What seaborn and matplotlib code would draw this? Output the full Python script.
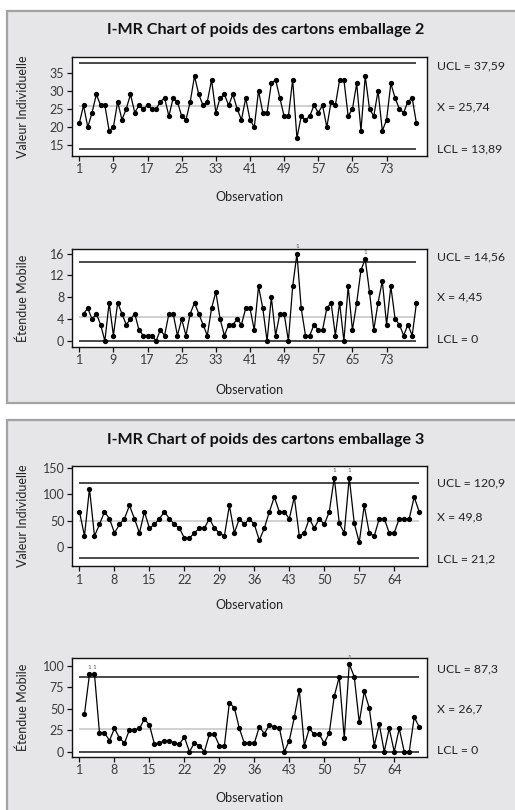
import numpy as np
import pandas as pd
import matplotlib
matplotlib.use("Agg")
import matplotlib.pyplot as plt
from matplotlib.patches import Rectangle
import seaborn as sns

# ---- Emballage 2 : individual weights and moving ranges ----
poids_2 = [21, 26, 20, 24, 29, 26, 26, 19, 20, 27,
           22, 25, 29, 24, 26, 25, 26, 25, 25, 27,
           28, 23, 28, 27, 23, 22, 27, 34, 29, 26,
           27, 33, 24, 28, 29, 26, 29, 25, 22, 28,
           22, 20, 30, 24, 24, 32, 33, 28, 23, 23,
           33, 17, 23, 22, 23, 26, 24, 26, 20, 27,
           26, 33, 33, 23, 25, 32, 19, 34, 25, 23,
           30, 19, 22, 32, 28, 25, 24, 27, 28, 21]
mr_2 = [5, 6, 4, 5, 3, 0, 7, 1, 7, 5,
        3, 4, 5, 2, 1, 1, 1, 0, 2, 1,
        5, 5, 1, 4, 1, 5, 7, 5, 3, 1,
        6, 9, 4, 1, 3, 3, 4, 3, 6, 6,
        2, 10, 6, 0, 8, 1, 5, 5, 0, 10,
        16, 6, 1, 1, 3, 2, 2, 6, 7, 1,
        7, 0, 10, 2, 7, 13, 15, 9, 2, 7,
        11, 3, 10, 4, 3, 1, 3, 1, 7]
limits_i_2 = [37.59, 25.74, 13.89]     # UCL, centre, LCL
limits_mr_2 = [14.56, 4.45, 0.0]
texts_i_2 = ["UCL = 37,59", "X = 25,74", "LCL = 13,89"]
texts_mr_2 = ["UCL = 14,56", "X = 4,45", "LCL = 0"]
xticks_2 = [1, 9, 17, 25, 33, 41, 49, 57, 65, 73]
yticks_i_2 = [15, 20, 25, 30, 35]
yticks_mr_2 = [0, 4, 8, 12, 16]

# ---- Emballage 3 : individual weights and moving ranges ----
poids_3 = [67, 21, 111, 21, 43, 67, 54, 27, 43, 54,
           79, 54, 27, 67, 36, 43, 54, 67, 54, 43,
           36, 17, 17, 27, 36, 36, 54, 36, 27, 21,
           79, 27, 54, 43, 54, 43, 13, 36, 67, 95,
           67, 67, 54, 95, 21, 27, 54, 36, 54, 43,
           67, 132, 45, 27, 132, 45, 9, 79, 27, 21,
           54, 54, 27, 27, 54, 54, 54, 95, 67]
mr_3 = [44, 90, 90, 22, 22, 13, 27, 16, 10, 25.5,
        25.5, 27, 38, 31, 9, 10, 13, 13, 10, 9,
        17, 0, 10, 7, 0, 20, 20, 7, 7, 57,
        51, 27, 10, 10, 10, 29, 21, 31, 29, 28,
        0, 13, 40, 72, 7, 27, 20, 20, 10, 22,
        64.5, 87, 16, 102, 87, 34, 70, 51, 7, 32,
        0, 27, 0, 27, 0, 0, 40, 29]
limits_i_3 = [120.9, 49.8, -21.2]
limits_mr_3 = [87.3, 26.7, 0.0]
texts_i_3 = ["UCL = 120,9", "X = 49,8", "LCL = 21,2"]
texts_mr_3 = ["UCL = 87,3", "X = 26,7", "LCL = 0"]
xticks_3 = [1, 8, 15, 22, 29, 36, 43, 50, 57, 64]
yticks_i_3 = [0, 50, 100, 150]
yticks_mr_3 = [0, 25, 50, 75, 100]

titles = ["I-MR Chart of poids des cartons emballage 2",
          "I-MR Chart of poids des cartons emballage 3"]

sns.set_theme(style="white")
plt.rcParams["font.family"] = ["Lato", "DejaVu Sans"]

W, H = 515, 810
fig = plt.figure(figsize=(W / 100, H / 100), dpi=100)
fig.patch.set_facecolor("white")

PANEL = "#e6e6e8"
EDGE = "#a2a2a2"
# grey frames behind each I-MR pair
fig.patches.append(Rectangle((7 / W, 1 - 403 / H), 1.2, 392 / H, transform=fig.transFigure,
                             facecolor=PANEL, edgecolor=EDGE, linewidth=1.6, zorder=-5))
fig.patches.append(Rectangle((7 / W, -0.05), 1.2, 0.05 + 1 - 420 / H, transform=fig.transFigure,
                             facecolor=PANEL, edgecolor=EDGE, linewidth=1.6, zorder=-5))


def px_axes(left, top, right, bottom):
    ax = fig.add_axes([left / W, 1 - bottom / H, (right - left) / W, (bottom - top) / H])
    ax.set_zorder(2)
    return ax


def control_plot(ax, values, first_obs, limits, xticks, yticks, xlim, ylim,
                 ylabel, xlabel_y, ylabel_x):
    n = len(values)
    obs = np.arange(first_obs, first_obs + n)
    df = pd.DataFrame({"Observation": obs, "valeur": values})
    x0, x1 = 1, first_obs + n - 1
    ucl, centre, lcl = limits
    ax.hlines(centre, x0, x1, color="#c8c8c8", linewidth=1.2, zorder=1)
    ax.hlines([ucl, lcl], x0, x1, color="#2a2a2a", linewidth=1.2, zorder=1)
    sns.lineplot(data=df, x="Observation", y="valeur", ax=ax, color="black",
                 linewidth=0.9, marker="o", markersize=3.8, markeredgewidth=0,
                 markerfacecolor="black", zorder=3)
    # points beyond the upper control limit get the test-1 flag
    for xo, v in zip(obs, values):
        if v > ucl:
            ax.annotate("1", (xo, v), xytext=(0, 3), textcoords="offset points",
                        ha="center", va="bottom", fontsize=4.5, color="#555555")
    ax.set_xlim(*xlim)
    ax.set_ylim(*ylim)
    ax.set_xticks(xticks)
    ax.set_yticks(yticks)
    ax.set_facecolor("white")
    for sp in ax.spines.values():
        sp.set_color("#111111")
        sp.set_linewidth(1.0)
    ax.tick_params(axis="both", which="major", direction="out", length=3.5, width=0.9,
                   color="#111111", labelsize=9, labelcolor="#3a3a3a", pad=2,
                   bottom=True, left=True, top=False, right=False)
    ax.set_xlabel("Observation", fontsize=9, color="#222222")
    ax.set_ylabel(ylabel, fontsize=9, color="#222222")
    bbox = ax.get_position()
    hpx = bbox.height * H
    wpx = bbox.width * W
    bot_px = (1 - bbox.y0) * H
    ax.xaxis.set_label_coords(0.5, (bot_px - xlabel_y) / hpx)
    ax.xaxis.label.set_va("center")
    ax.yaxis.set_label_coords((ylabel_x - bbox.x0 * W) / wpx, 0.5)
    ax.yaxis.label.set_va("center")
    ax.yaxis.label.set_ha("center")


def side_labels(texts, ys):
    for t, y in zip(texts, ys):
        fig.text(437 / W, 1 - y / H, t, ha="left", va="center", fontsize=8.8, color="#222222")


# emballage 2
ax1 = px_axes(72, 57.3, 426.7, 155.5)
control_plot(ax1, poids_2, 1, limits_i_2, xticks_2, yticks_i_2, (-0.7, 82.4), (12.2, 39.2),
             "Valeur Individuelle", 197, 23)
side_labels(texts_i_2, [66, 106.7, 149])

ax2 = px_axes(72, 249.3, 426.7, 346.7)
control_plot(ax2, mr_2, 2, limits_mr_2, xticks_2, yticks_mr_2, (-0.7, 82.4), (-1.05, 16.8),
             "Étendue Mobile", 390, 23)
side_labels(texts_mr_2, [256.7, 297.3, 339.3])

# emballage 3
ax3 = px_axes(72, 466, 426.7, 566)
control_plot(ax3, poids_3, 1, limits_i_3, xticks_3, yticks_i_3, (-0.5, 70.5), (-35.8, 153.9),
             "Valeur Individuelle", 605, 23)
side_labels(texts_i_3, [483.3, 517.3, 559])

ax4 = px_axes(72, 658.3, 426.7, 756.7)
control_plot(ax4, mr_3, 2, limits_mr_3, xticks_3, yticks_mr_3, (-0.5, 70.5), (-5.8, 108.5),
             "Étendue Mobile", 798, 23)
side_labels(texts_mr_3, [669, 709, 751])

for t, y in zip(titles, [30, 440]):
    fig.text(266 / W, 1 - y / H, t, ha="center", va="center", fontsize=11.6,
             fontweight="bold", color="#111111")

fig.savefig("out.png", dpi=100)
